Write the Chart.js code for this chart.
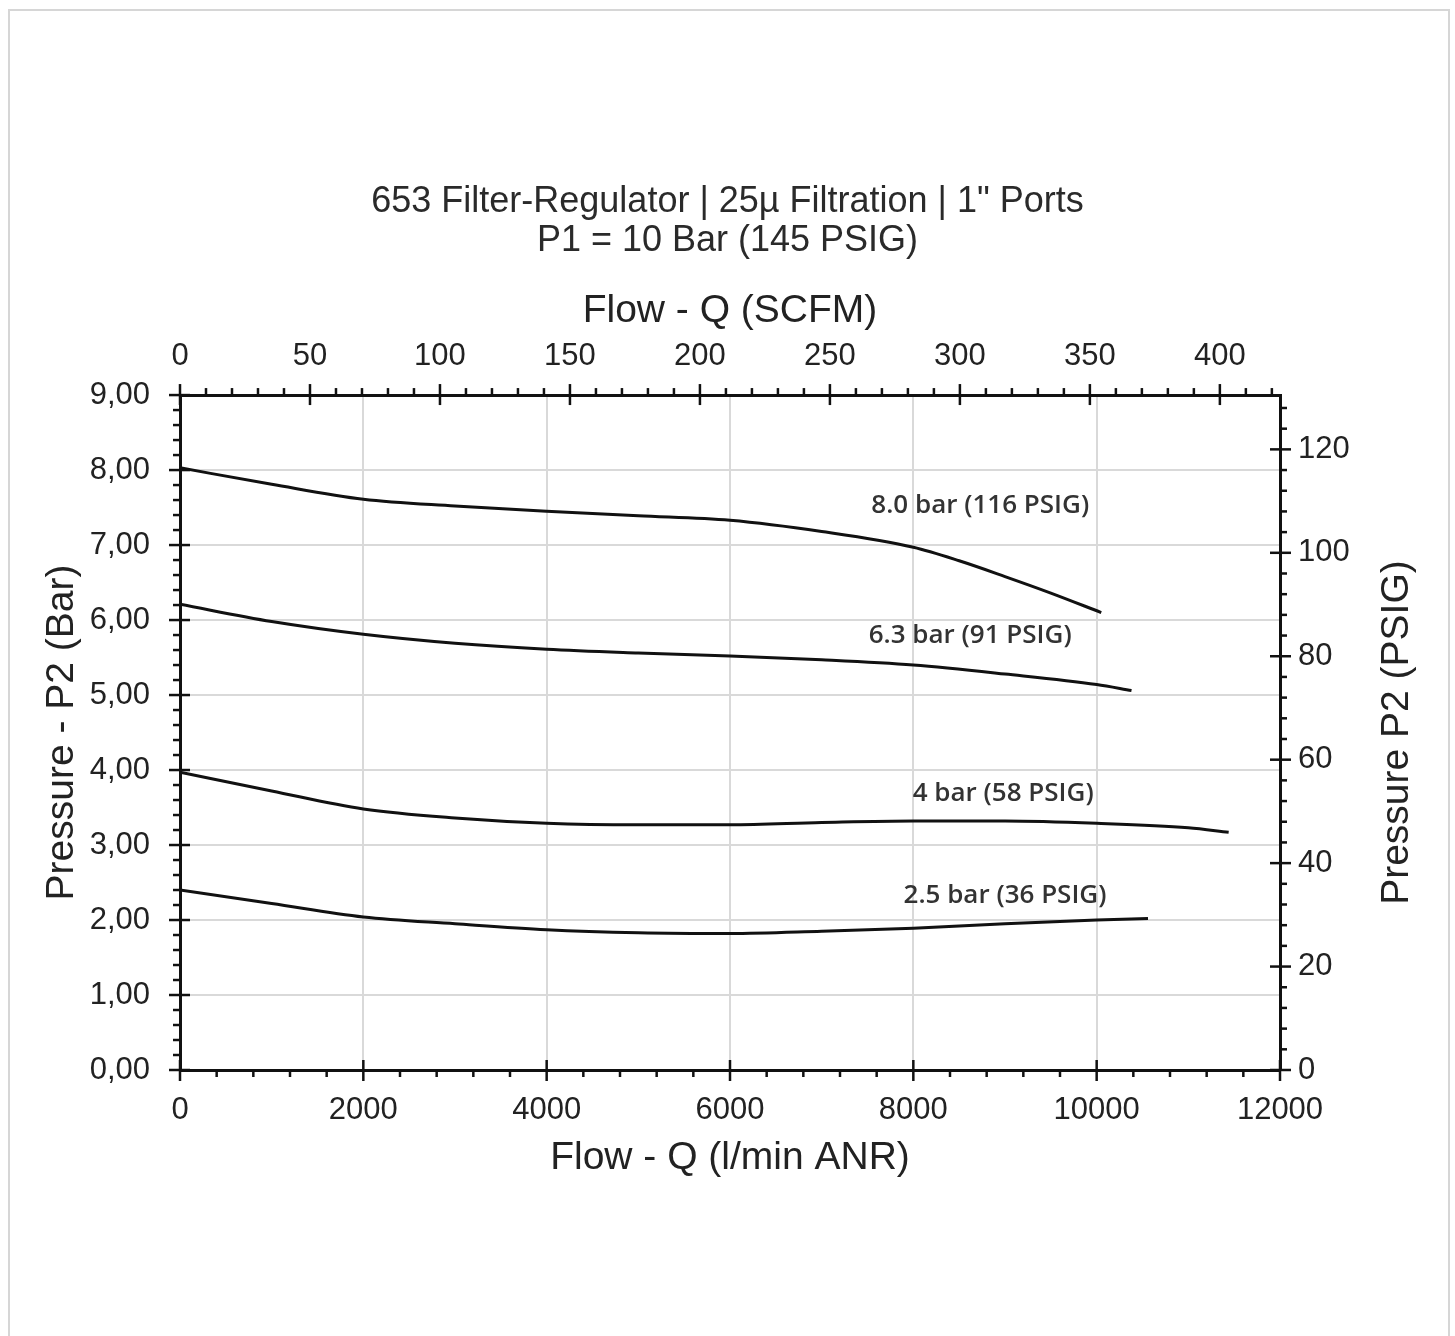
<!DOCTYPE html>
<html>
<head>
<meta charset="utf-8">
<script src="https://cdn.jsdelivr.net/npm/chart.js@4/dist/chart.umd.min.js"></script>
<style>
  html, body { margin: 0; padding: 0; background: #fff; }
  #wrap { position: relative; width: 1455px; height: 1336px; }
  #frame { position: absolute; left: 8px; top: 9px; width: 1438px; height: 1340px; border: 2px solid #d6d6d6; }
  #chart { position: absolute; left: 0; top: 0; }
</style>
</head>
<body>
<div id="wrap">
  <div id="frame"></div>
  <canvas id="chart" width="1455" height="1336"></canvas>
</div>
<script>
// flow in l/min ANR, outlet pressure P2 in bar
const flow80 = [0, 1000, 2000, 3000, 4000, 5000, 6000, 7000, 8000, 8500, 9000, 9500, 10050];
const p80 = [8.03, 7.81, 7.61, 7.52, 7.45, 7.39, 7.33, 7.18, 6.97, 6.79, 6.58, 6.36, 6.10];

const flow63 = [0, 1000, 2000, 3000, 4000, 5000, 6000, 7000, 8000, 9000, 10000, 10380];
const p63 = [6.21, 5.98, 5.81, 5.69, 5.61, 5.56, 5.52, 5.47, 5.40, 5.28, 5.14, 5.06];

const flow40 = [0, 1000, 2000, 3000, 4000, 5000, 6000, 7000, 8000, 9000, 10000, 11000, 11440];
const p40 = [3.97, 3.72, 3.48, 3.36, 3.29, 3.27, 3.27, 3.30, 3.32, 3.32, 3.29, 3.23, 3.17];

const flow25 = [0, 1000, 2000, 3000, 4000, 5000, 6000, 7000, 8000, 9000, 10000, 10560];
const p25 = [2.40, 2.22, 2.04, 1.95, 1.87, 1.83, 1.82, 1.85, 1.89, 1.95, 2.00, 2.02];

const curveLabels = ['8.0 bar (116 PSIG)', '6.3 bar (91 PSIG)', '4 bar (58 PSIG)', '2.5 bar (36 PSIG)'];

const titleLines = ['653 Filter-Regulator | 25\u00b5 Filtration | 1" Ports', 'P1 = 10 Bar (145 PSIG)'];

const LPM_PER_SCFM = 28.36;
const PSI_PER_BAR = 14.5;
const FLOW_MAX = 12000;
const BAR_MAX = 9;

const FONT = '"Liberation Sans", Arial, sans-serif';

function toPoints(xs, ys) {
  return xs.map((x, i) => ({ x, y: ys[i] }));
}

function curve(xs, ys) {
  return {
    data: toPoints(xs, ys),
    borderColor: '#111',
    borderWidth: 3,
    pointRadius: 0,
    fill: false,
    cubicInterpolationMode: 'monotone',
    xAxisID: 'x',
    yAxisID: 'y'
  };
}

// minor / major tick marks, drawn from each scale's own pixel mapping
const tickMarks = {
  id: 'tickMarks',
  afterDraw(chart, args, opts) {
    const ctx = chart.ctx;
    ctx.save();
    ctx.strokeStyle = '#111';
    ctx.lineWidth = 2.5;
    opts.axes.forEach(a => {
      const scale = chart.scales[a.id];
      const horiz = scale.isHorizontal();
      const base = a.id === 'x' ? scale.top : a.id === 'x2' ? scale.bottom
        : a.id === 'y' ? scale.right : scale.left;
      const dir = (a.id === 'x' || a.id === 'y2') ? 1 : -1;
      for (let v = scale.min; v <= scale.max + 1e-6; v += a.minor) {
        const k = Math.round(v / a.minor);
        const isMajor = k % a.every === 0;
        const p = scale.getPixelForValue(v);
        const out = isMajor ? 11 : 7;
        const inn = isMajor ? -10 : 0;
        ctx.beginPath();
        if (horiz) {
          ctx.moveTo(p, base + dir * inn);
          ctx.lineTo(p, base + dir * out);
        } else {
          ctx.moveTo(base + dir * inn, p);
          ctx.lineTo(base + dir * out, p);
        }
        ctx.stroke();
      }
    });
    ctx.restore();
  }
};

// curve captions (data units) and the right axis title read bottom-to-top
const curveText = {
  id: 'curveText',
  afterDatasetsDraw(chart, args, opts) {
    const ctx = chart.ctx;
    const xs = chart.scales.x, ys = chart.scales.y;
    ctx.save();
    ctx.font = '600 26px "Open Sans"';
    ctx.fillStyle = '#333';
    ctx.textAlign = 'center';
    ctx.textBaseline = 'middle';
    opts.at.forEach((pos, i) => {
      ctx.fillText(curveLabels[i], xs.getPixelForValue(pos[0]), ys.getPixelForValue(pos[1]));
    });
    ctx.restore();

    const r = chart.scales.y2;
    ctx.save();
    ctx.font = '39px ' + FONT;
    ctx.fillStyle = '#222';
    ctx.textAlign = 'center';
    ctx.textBaseline = 'middle';
    ctx.translate(r.right - opts.rightTitleOffset, (r.top + r.bottom) / 2);
    ctx.rotate(-Math.PI / 2);
    ctx.fillText(chart.options.scales.y2.title.text, 0, 0);
    ctx.restore();
  }
};

const axisFont = { family: FONT, size: 39 };
const tickFont = { family: FONT, size: 31 };
const border = { display: true, color: '#111', width: 3 };

new Chart(document.getElementById('chart'), {
  type: 'line',
  data: {
    datasets: [curve(flow80, p80), curve(flow63, p63), curve(flow40, p40), curve(flow25, p25)]
  },
  options: {
    responsive: false,
    animation: false,
    layout: { padding: 0 },
    plugins: {
      legend: { display: false },
      tooltip: { enabled: false },
      title: {
        display: true,
        text: titleLines,
        color: '#2a2a2a',
        font: { family: FONT, size: 36, weight: 'normal', lineHeight: 1.08 },
        padding: { top: 182.6, bottom: 0 }
      },
      tickMarks: {
        axes: [
          { id: 'x', minor: 400, every: 5 },
          { id: 'x2', minor: 10, every: 5 },
          { id: 'y', minor: 0.2, every: 5 },
          { id: 'y2', minor: 4, every: 5 }
        ]
      },
      curveText: {
        at: [[8730, 7.53], [8620, 5.79], [8980, 3.69], [9000, 2.33]],
        rightTitleOffset: 58
      }
    },
    scales: {
      x: {
        type: 'linear', position: 'bottom', min: 0, max: FLOW_MAX,
        afterFit: s => { s.height = 266; },
        border,
        grid: { color: '#d9d9d9', lineWidth: 2, drawTicks: false },
        ticks: { stepSize: 2000, padding: 22, color: '#222', font: tickFont, maxRotation: 0,
          callback: v => String(v) },
        title: { display: true, text: 'Flow - Q (l/min ANR)', color: '#222', font: axisFont, padding: { top: 0, bottom: 154.6 } }
      },
      x2: {
        type: 'linear', position: 'top', min: 0, max: FLOW_MAX / LPM_PER_SCFM,
        afterFit: s => { s.height = 134.7; },
        border,
        grid: { display: false, drawTicks: false },
        ticks: { stepSize: 50, includeBounds: false, padding: 20, color: '#222', font: tickFont, maxRotation: 0,
          callback: v => String(v) },
        title: { display: true, text: 'Flow - Q (SCFM)', color: '#222', font: axisFont, padding: { top: 27.3, bottom: 0 } }
      },
      y: {
        type: 'linear', position: 'left', min: 0, max: BAR_MAX,
        afterFit: s => { s.width = 180; },
        border,
        grid: { color: '#d9d9d9', lineWidth: 2, drawTicks: false },
        ticks: { stepSize: 1, padding: 30, color: '#222', font: tickFont,
          callback: v => v.toFixed(2).replace('.', ',') },
        title: { display: true, text: 'Pressure - P2 (Bar)', color: '#222', font: axisFont, padding: { top: 38.6, bottom: 0 } }
      },
      y2: {
        type: 'linear', position: 'right', min: 0, max: BAR_MAX * PSI_PER_BAR,
        afterFit: s => { s.width = 175; },
        border,
        grid: { display: false, drawTicks: false },
        ticks: { stepSize: 20, includeBounds: false, padding: 18, color: '#222', font: tickFont,
          callback: v => String(v) },
        title: { display: false, text: 'Pressure P2 (PSIG)' }
      }
    }
  },
  plugins: [tickMarks, curveText]
});
</script>
</body>
</html>
